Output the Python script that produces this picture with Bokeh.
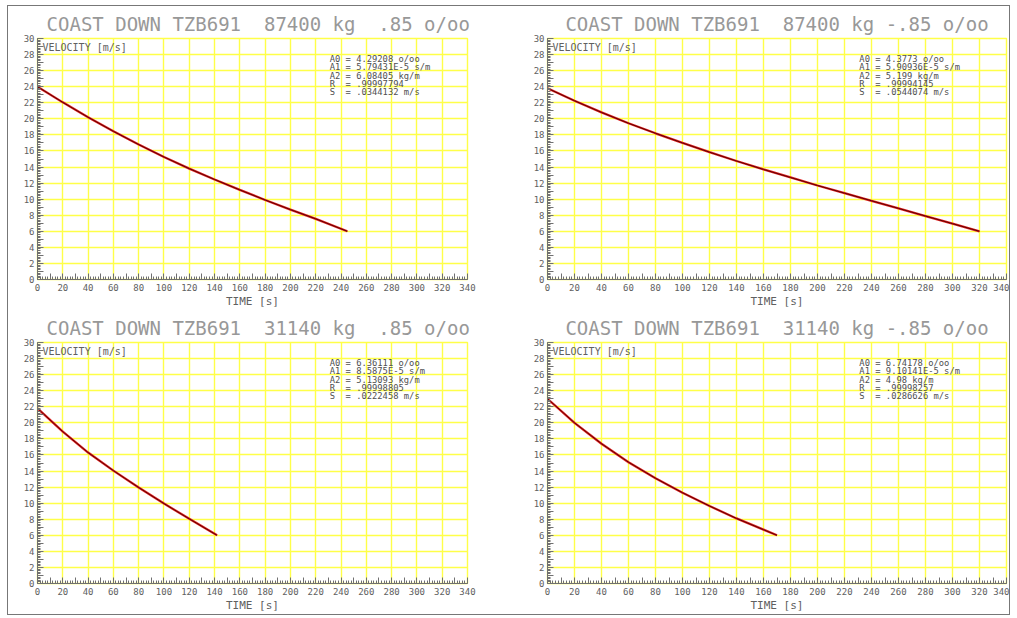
from bokeh.plotting import figure
from bokeh.layouts import column, row
from bokeh.models import Range1d, FixedTicker, CustomJSTickFormatter, Label
from bokeh.embed import file_html
from bokeh.resources import INLINE

# ---- data ----
titles = [
    "COAST DOWN TZB691  87400 kg  .85 o/oo",
    "COAST DOWN TZB691  87400 kg -.85 o/oo",
    "COAST DOWN TZB691  31140 kg  .85 o/oo",
    "COAST DOWN TZB691  31140 kg -.85 o/oo",
]

t_tl = [0, 20, 40, 60, 80, 100, 120, 140, 160, 180, 200, 220, 245]
v_tl = [24.0, 22.05, 20.2, 18.45, 16.8, 15.25, 13.8, 12.45, 11.15, 9.9, 8.7, 7.55, 6.0]

t_tr = [0, 20, 40, 60, 80, 100, 120, 140, 160, 180, 200, 220, 240, 260, 280, 300, 320]
v_tr = [23.8, 22.25, 20.8, 19.45, 18.2, 17.0, 15.85, 14.75, 13.7, 12.7, 11.7, 10.75,
        9.8, 8.85, 7.9, 6.95, 6.0]

t_bl = [0, 20, 40, 60, 80, 100, 120, 142]
v_bl = [21.8, 18.9, 16.3, 14.05, 11.95, 9.95, 8.05, 6.0]

t_br = [0, 20, 40, 60, 80, 100, 120, 140, 160, 170]
v_br = [23.0, 20.0, 17.4, 15.1, 13.1, 11.3, 9.65, 8.1, 6.7, 6.0]

a0 = ["4.29208", "4.3773", "6.36111", "6.74178"]
a1 = ["5.79431E-5", "5.90936E-5", "8.5875E-5", "9.10141E-5"]
a2 = ["6.08405", "5.199", "5.13093", "4.98"]
r_vals = [".99997794", ".99994145", ".99998805", ".99998257"]
s_vals = [".0344132", ".0544074", ".0222458", ".0286626"]

x_label = "TIME [s]"
y_label = "VELOCITY [m/s]"

FONT = "DejaVu Sans Mono"
GRID = "#ffff48"
GREY = "#707070"
NB = "\u00a0"


def make(idx, t, v, width, height, bl, br, bt, bb, lead):
    p = figure(width=width, height=height, output_backend="svg", toolbar_location=None,
               x_range=Range1d(0, 340), y_range=Range1d(0, 30),
               min_border_left=bl, min_border_right=br, min_border_top=bt,
               min_border_bottom=bb)
    p.title.text = (NB * lead) + titles[idx].replace(" ", NB)
    p.title.align = "center"
    p.title.text_font = FONT
    p.title.text_font_size = "19px"
    p.title.text_font_style = "normal"
    p.title.text_color = "#989898"
    p.title.standoff = 8
    p.outline_line_color = GRID
    p.outline_line_width = 1.4
    p.background_fill_color = "white"
    p.border_fill_color = "white"

    xa = p.xaxis[0]
    xa.ticker = FixedTicker(ticks=list(range(0, 341, 10)), minor_ticks=list(range(0, 341, 2)))
    xa.formatter = CustomJSTickFormatter(code="return (Math.round(tick) % 20 == 0) ? tick.toFixed(0) : '';")
    ya = p.yaxis[0]
    ya.ticker = FixedTicker(ticks=list(range(0, 31)), minor_ticks=[i / 5 for i in range(0, 151)])
    ya.formatter = CustomJSTickFormatter(code="return (Math.round(tick) % 2 == 0) ? tick.toFixed(0) : '';")
    for ax in (xa, ya):
        ax.axis_line_color = GREY
        ax.major_tick_line_color = GREY
        ax.minor_tick_line_color = GREY
        ax.major_tick_in = 6
        ax.major_tick_out = 0
        ax.minor_tick_in = 3
        ax.minor_tick_out = 0
        ax.major_label_text_font = FONT
        ax.major_label_text_font_size = "9px"
        ax.major_label_text_color = "#606060"
    xa.major_label_standoff = 4
    ya.major_label_standoff = 3
    xa.axis_label = x_label
    xa.axis_label_text_font = FONT
    xa.axis_label_text_font_size = "11px"
    xa.axis_label_text_font_style = "normal"
    xa.axis_label_text_color = "#606060"
    xa.axis_label_standoff = 1

    p.xgrid.ticker = FixedTicker(ticks=list(range(20, 341, 20)))
    p.ygrid.ticker = FixedTicker(ticks=list(range(2, 31, 2)))
    for g in (p.xgrid, p.ygrid):
        g.grid_line_color = GRID
        g.grid_line_width = 1.4

    p.line(t, v, line_color="#e42222", line_width=2.3)
    p.line(t, v, line_color="#5a0000", line_width=1.0)

    p.add_layout(Label(x=0, y=30, x_offset=5, y_offset=-3, text=y_label,
                       text_font=FONT, text_font_size="10px", text_color="#606060",
                       text_baseline="top"))
    ann = "\n".join([
        f"A0 = {a0[idx]} o/oo",
        f"A1 = {a1[idx]} s/m",
        f"A2 = {a2[idx]} kg/m",
        f"R  = {r_vals[idx]}",
        f"S  = {s_vals[idx]} m/s",
    ]).replace(" ", NB)
    p.add_layout(Label(x=231, y=28.1, text=ann, text_font=FONT, text_font_size="8.8px",
                       text_color="#505050", text_baseline="top", text_line_height=0.84))
    return p


p1 = make(0, t_tl, v_tl, 512, 304, 29, 53, 30, 30, 1)
p2 = make(1, t_tr, v_tr, 489, 304, 27, 3, 30, 30, 0)
p3 = make(2, t_bl, v_bl, 512, 304, 29, 53, 30, 28, 1)
p4 = make(3, t_br, v_br, 489, 304, 27, 3, 30, 28, 0)

layout = column(row(p1, p2), row(p3, p4), margin=(5, 0, 0, 7),
                styles={"border": "1px solid #777777"})

open("out.html", "w").write(file_html(layout, INLINE))
